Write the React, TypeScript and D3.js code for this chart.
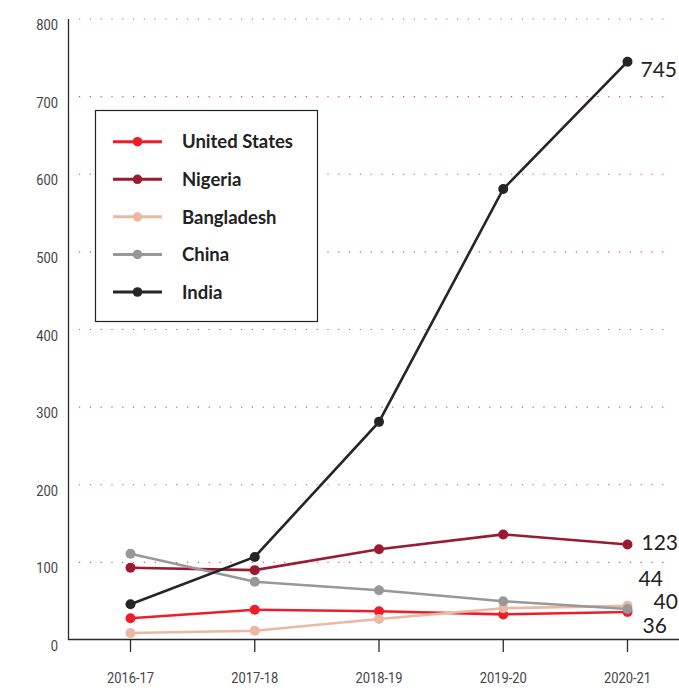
import React, { useEffect, useRef } from "react";
import * as d3 from "d3";

// Fiscal years on the x axis
const years = ["2016-17", "2017-18", "2018-19", "2019-20", "2020-21"];

// Series names, in drawing / legend order
const seriesNames = ["United States", "Nigeria", "Bangladesh", "China", "India"];

// Values per series, one per fiscal year
const unitedStates = [28, 39, 37, 33, 36];
const nigeria = [93, 90, 117, 136, 123];
const bangladesh = [9, 12, 27, 41, 44];
const china = [111, 75, 64, 50, 40];
const india = [46, 107, 281, 581, 745];

const yTicks = [0, 100, 200, 300, 400, 500, 600, 700, 800];

const seriesValues = [unitedStates, nigeria, bangladesh, china, india];
const seriesColors = ["#ee1d2b", "#9a1b31", "#e9b9a4", "#98989b", "#262425"];
// Where each end-of-line value label sits relative to its last point
const endLabelOffsets = [
  { dx: 15, dy: 13 },
  { dx: 14, dy: -2 },
  { dx: 11, dy: -27 },
  { dx: 26, dy: -8 },
  { dx: 13, dy: 8 },
];

const W = 679;
const H = 688;
const condensed = "Roboto, sans-serif";
const labelFont = "Lato, 'Open Sans', sans-serif";

export default function App() {
  const ref = useRef<SVGSVGElement | null>(null);

  useEffect(() => {
    const svg = d3.select(ref.current);
    svg.selectAll("*").remove();

    const x = d3.scalePoint<string>().domain(years).range([130.5, 627.5]);
    const y = d3.scaleLinear().domain([0, 800]).range([640, 19]);

    // dotted grid lines
    svg
      .append("g")
      .selectAll("line")
      .data(yTicks.filter((t) => t > 0))
      .join("line")
      .attr("x1", 79)
      .attr("x2", 672)
      .attr("y1", (d) => y(d))
      .attr("y2", (d) => y(d))
      .attr("stroke", "#f0455e")
      .attr("stroke-width", 1.2)
      .attr("stroke-dasharray", "1.2 9.6");

    // y axis line and labels
    svg
      .append("line")
      .attr("x1", 68.5)
      .attr("x2", 68.5)
      .attr("y1", y(800))
      .attr("y2", y(0))
      .attr("stroke", "#2a2a2a")
      .attr("stroke-width", 1.3);

    svg
      .append("g")
      .selectAll("text")
      .data(yTicks)
      .join("text")
      .attr("transform", (d) => `translate(58,${y(d) + 11}) scale(0.86,1)`)
      .attr("text-anchor", "end")
      .attr("font-family", condensed)
      .attr("font-size", 15)
      .attr("fill", "#444")
      .text((d) => String(d));

    // x axis line, ticks and labels
    svg
      .append("line")
      .attr("x1", 68)
      .attr("x2", W)
      .attr("y1", 639.5)
      .attr("y2", 639.5)
      .attr("stroke", "#2a2a2a")
      .attr("stroke-width", 1.3);

    const xt = svg.append("g").selectAll("g").data(years).join("g");
    xt.append("line")
      .attr("x1", (d) => x(d)!)
      .attr("x2", (d) => x(d)!)
      .attr("y1", 640)
      .attr("y2", 652)
      .attr("stroke", "#2a2a2a")
      .attr("stroke-width", 1.3);
    xt.append("text")
      .attr("transform", (d) => `translate(${x(d)},683) scale(0.86,1)`)
      .attr("text-anchor", "middle")
      .attr("font-family", condensed)
      .attr("font-size", 15)
      .attr("fill", "#444")
      .text((d) => d);

    // series lines and points
    const line = d3
      .line<number>()
      .x((_, i) => x(years[i])!)
      .y((d) => y(d));

    seriesValues.forEach((vals, si) => {
      const g = svg.append("g");
      g.append("path")
        .attr("d", line(vals)!)
        .attr("fill", "none")
        .attr("stroke", seriesColors[si])
        .attr("stroke-width", 2.6);
      g.selectAll("circle")
        .data(vals)
        .join("circle")
        .attr("cx", (_, i) => x(years[i])!)
        .attr("cy", (d) => y(d))
        .attr("r", 5)
        .attr("fill", seriesColors[si]);
    });

    // end-of-line value labels
    seriesValues.forEach((vals, si) => {
      const last = vals[vals.length - 1];
      const off = endLabelOffsets[si];
      svg
        .append("text")
        .attr("x", x(years[years.length - 1])! + off.dx)
        .attr("y", y(last) + off.dy)
        .attr("dy", "0.36em")
        .attr("font-family", labelFont)
        .attr("font-size", 21)
        .attr("fill", "#222")
        .text(String(last));
    });

    // legend
    const lg = svg.append("g");
    lg.append("rect")
      .attr("x", 95.5)
      .attr("y", 110.5)
      .attr("width", 222)
      .attr("height", 211)
      .attr("fill", "#fff")
      .attr("stroke", "#222")
      .attr("stroke-width", 1.2);
    const rowY = d3.scaleLinear().domain([0, 4]).range([141.7, 292]);
    seriesNames.forEach((name, si) => {
      const ry = rowY(si);
      lg.append("line")
        .attr("x1", 113)
        .attr("x2", 162)
        .attr("y1", ry)
        .attr("y2", ry)
        .attr("stroke", seriesColors[si])
        .attr("stroke-width", 3);
      lg.append("circle")
        .attr("cx", 137.5)
        .attr("cy", ry)
        .attr("r", 4.8)
        .attr("fill", seriesColors[si]);
      lg.append("text")
        .attr("x", 182)
        .attr("y", ry)
        .attr("dy", "0.36em")
        .attr("font-family", labelFont)
        .attr("font-weight", 700)
        .attr("font-size", 18.5)
        .attr("fill", "#222")
        .text(name);
    });
  }, []);

  return (
    <div style={{ position: "absolute", left: 0, top: 0 }}>
      <svg ref={ref} width={W} height={H} style={{ display: "block", background: "#fff" }} />
    </div>
  );
}
